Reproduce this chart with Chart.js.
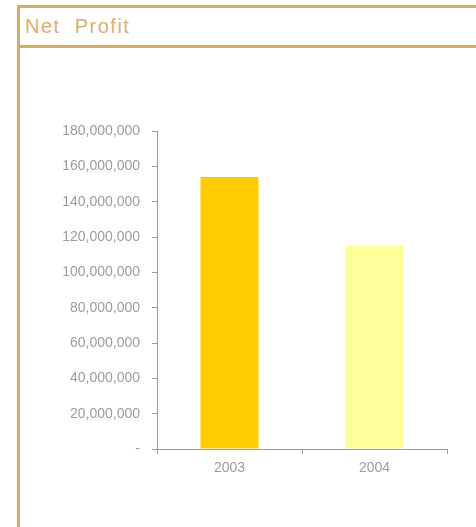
<!DOCTYPE html>
<html>
<head>
<meta charset="utf-8">
<script src="https://cdn.jsdelivr.net/npm/chart.js@4.4.1/dist/chart.umd.min.js"></script>
<style>
  html, body { margin: 0; padding: 0; background: #fff; }
  body { width: 476px; height: 527px; position: relative; overflow: hidden; }
  #frame {
    position: absolute; left: 17px; top: 5px; width: 470px; height: 540px;
    border-left: 3px solid #D8AC66; box-sizing: border-box;
  }
  #title-box {
    position: absolute; left: 17px; top: 5px; width: 470px; height: 43px;
    border: 3px solid #D8AC66; box-sizing: border-box; background: #fff;
  }
  #title {
    position: absolute; left: 5px; top: 7px;
    font-family: "Liberation Sans", Arial, sans-serif; font-size: 20px;
    letter-spacing: 1.5px; color: #DAB070; white-space: pre;
  }
  #chart { position: absolute; left: 0; top: 0; }
</style>
</head>
<body>
<div id="frame"></div>
<div id="title-box"><div id="title">Net  Profit</div></div>
<canvas id="chart" width="476" height="527"></canvas>
<script>
document.addEventListener('DOMContentLoaded', function () {
    const years = ['2003', '2004'];
    const netProfit = [154000000, 115000000];
    const barColors = ['#FFCC00', '#FFFF99'];
    const yMax = 180000000;
    const yStep = 20000000;

    const grey = '#9c9c9c';

    new Chart(document.getElementById('chart'), {
        type: 'bar',
        data: {
            labels: years,
            datasets: [{
                label: 'Net Profit',
                data: netProfit,
                backgroundColor: barColors,
                borderWidth: 0,
                categoryPercentage: 1,
                barPercentage: 0.4
            }]
        },
        options: {
            responsive: false,
            animation: false,
            layout: { padding: { left: 0, right: 29, top: 131, bottom: 0 } },
            plugins: {
                legend: { display: false },
                tooltip: { enabled: false }
            },
            scales: {
                x: {
                    afterFit: (s) => { s.height = 78; },
                    border: { display: true, color: grey, width: 1 },
                    grid: { display: true, drawOnChartArea: false, drawTicks: true, tickLength: 5, color: grey, offset: true },
                    ticks: { color: grey, font: { family: 'Liberation Sans, Arial', size: 14 }, padding: 6 }
                },
                y: {
                    min: 0,
                    max: yMax,
                    afterFit: (s) => { s.width = 157; },
                    border: { display: true, color: grey, width: 1 },
                    grid: { display: true, drawOnChartArea: false, drawTicks: true, tickLength: 5, color: grey },
                    ticks: {
                        stepSize: yStep,
                        color: grey,
                        font: { family: 'Liberation Sans, Arial', size: 14 },
                        padding: 12,
                        callback: (v) => v === 0 ? '-' : v.toLocaleString('en-US')
                    }
                }
            }
        }
    });
});
</script>
</body>
</html>
